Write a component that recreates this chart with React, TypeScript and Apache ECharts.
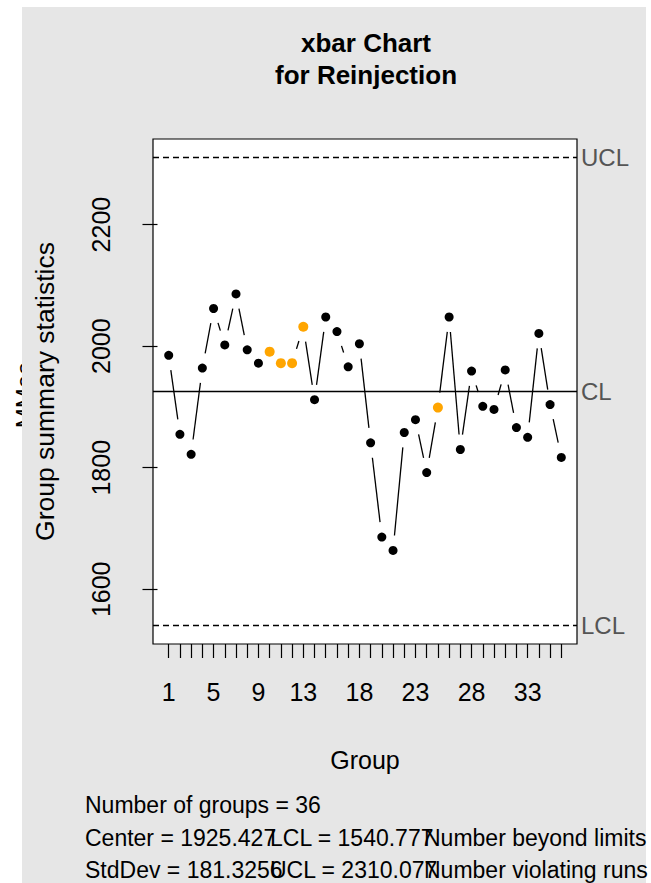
import React, { useEffect, useRef } from "react";
import * as echarts from "echarts";

// ---- data ----
const groups: number[] = Array.from({ length: 36 }, (_, i) => i + 1);
const groupMeans: number[] = [
  1985, 1855, 1822, 1964, 2062, 2002, 2086, 1994, 1972, 1991, 1972, 1972,
  2032, 1912, 2048, 2024, 1966, 2004, 1841, 1686, 1664, 1858, 1879, 1792,
  1899, 2048, 1830, 1959, 1901, 1896, 1961, 1866, 1850, 2021, 1904, 1817,
];
const violatingRuns: number[] = [10, 11, 12, 13, 25];
const center = 1925.427;
const lcl = 1540.777;
const ucl = 2310.077;
const yTicks: number[] = [1600, 1800, 2000, 2200];
const xLabelTicks: number[] = [1, 5, 9, 13, 18, 23, 28, 33];
const statsLines: string[][] = [
  ["Number of groups = 36"],
  ["Center = 1925.427", "LCL = 1540.777", "Number beyond limits"],
  ["StdDev = 181.3256", "UCL = 2310.077", "Number violating runs"],
];

const FONT = "'Liberation Sans', Arial, sans-serif";
const GAP = 15;

export default function App() {
  const ref = useRef<HTMLDivElement>(null);
  useEffect(() => {
    if (!ref.current) return;
    const chart = echarts.init(ref.current, undefined, { renderer: "svg" });

    const yMin = lcl - (ucl - lcl) * 0.04;
    const yMax = ucl + (ucl - lcl) * 0.04;
    const xMin = 1 - 35 * 0.04;
    const xMax = 36 + 35 * 0.04;

    const segs = groupMeans.slice(0, -1).map((v, i) => [
      groups[i], v, groups[i + 1], groupMeans[i + 1],
    ]);

    const pointData = groupMeans.map((v, i) => {
      const bad = violatingRuns.includes(groups[i]);
      return {
        value: [groups[i], v],
        symbolSize: bad ? 10 : 9,
        itemStyle: { color: bad ? "#FFA500" : "#000000", opacity: 1 },
      };
    });

    const statsGraphics: any[] = [];
    const colX = [85, 270, 424];
    const rowY = [805, 838, 870];
    statsLines.forEach((row, r) => {
      row.forEach((t, c) => {
        statsGraphics.push({
          type: "text",
          x: colX[c],
          y: rowY[r],
          style: {
            text: t,
            font: `23px ${FONT}`,
            fill: "#000",
            textAlign: "left",
            textVerticalAlign: "middle",
          },
        });
      });
    });

    chart.setOption({
      animation: false,
      backgroundColor: "#ffffff",
      textStyle: { fontFamily: FONT },
      graphic: [
        {
          type: "text",
          x: 24,
          y: 395,
          rotation: Math.PI / 2,
          z: -20,
          style: {
            text: "MMea",
            font: `24px ${FONT}`,
            fill: "#000",
            textAlign: "center",
            textVerticalAlign: "middle",
          },
        },
        {
          type: "rect",
          z: -10,
          shape: { x: 22, y: 7, width: 624, height: 900 },
          style: { fill: "#e6e6e6" },
        },
        {
          type: "text",
          x: 366,
          y: 59,
          style: {
            text: "xbar Chart\nfor Reinjection",
            font: `bold 26px ${FONT}`,
            lineHeight: 32,
            fill: "#000",
            textAlign: "center",
            textVerticalAlign: "middle",
          },
        },
        ...statsGraphics,
      ],
      grid: {
        left: 153,
        top: 139,
        width: 424,
        height: 505,
        show: true,
        backgroundColor: "#ffffff",
        borderColor: "#000000",
        borderWidth: 1.2,
      },
      xAxis: {
        type: "value",
        min: xMin,
        max: xMax,
        name: "Group",
        nameLocation: "middle",
        nameGap: 103,
        nameTextStyle: { fontSize: 25, color: "#000", fontFamily: FONT },
        axisLine: { show: false },
        splitLine: { show: false },
        axisTick: {
          show: true,
          inside: false,
          length: 14,
          customValues: groups,
          lineStyle: { color: "#000", width: 1.2 },
        },
        axisLabel: {
          show: true,
          customValues: xLabelTicks,
          fontSize: 25,
          color: "#000",
          margin: 35,
          fontFamily: FONT,
          formatter: (v: number) => String(v),
        },
      },
      yAxis: {
        type: "value",
        min: yMin,
        max: yMax,
        name: "Group summary statistics",
        nameLocation: "middle",
        nameGap: 95,
        nameTextStyle: { fontSize: 26.5, color: "#000", fontFamily: FONT },
        axisLine: { show: false },
        splitLine: { show: false },
        axisTick: {
          show: true,
          inside: false,
          length: 15,
          customValues: yTicks,
          lineStyle: { color: "#000", width: 1.2 },
        },
        axisLabel: {
          show: true,
          customValues: yTicks,
          rotate: 90,
          fontSize: 25,
          color: "#000",
          margin: 40,
          fontFamily: FONT,
          formatter: (v: number) => String(v),
        },
      },
      series: [
        {
          type: "custom",
          data: segs,
          encode: { x: [0, 2], y: [1, 3] },
          silent: true,
          z: 3,
          renderItem: (params: any, api: any) => {
            const a = api.coord([api.value(0), api.value(1)]);
            const b = api.coord([api.value(2), api.value(3)]);
            const dx = b[0] - a[0];
            const dy = b[1] - a[1];
            const len = Math.hypot(dx, dy);
            if (len <= 2 * GAP) return { type: "group", children: [] };
            const ux = dx / len;
            const uy = dy / len;
            return {
              type: "line",
              shape: {
                x1: a[0] + ux * GAP,
                y1: a[1] + uy * GAP,
                x2: b[0] - ux * GAP,
                y2: b[1] - uy * GAP,
              },
              style: { stroke: "#000", lineWidth: 1.3 },
            };
          },
        },
        {
          type: "scatter",
          data: pointData,
          symbol: "circle",
          z: 4,
          silent: true,
          itemStyle: { opacity: 1 },
          markLine: {
            silent: true,
            symbol: "none",
            label: {
              show: true,
              position: "end",
              distance: 4,
              fontSize: 24,
              color: "#555555",
              fontFamily: FONT,
              formatter: (p: any) => p.name,
            },
            data: [
              { name: "UCL", yAxis: ucl, lineStyle: { type: [6, 4], color: "#000", width: 1.3 } },
              { name: "CL", yAxis: center, lineStyle: { type: "solid", color: "#000", width: 1.3 } },
              { name: "LCL", yAxis: lcl, lineStyle: { type: [6, 4], color: "#000", width: 1.3 } },
            ],
          },
        },
      ],
    });
    return () => chart.dispose();
  }, []);
  return (
    <div
      ref={ref}
      style={{ position: "absolute", left: 0, top: 0, width: 651, height: 883 }}
    />
  );
}
